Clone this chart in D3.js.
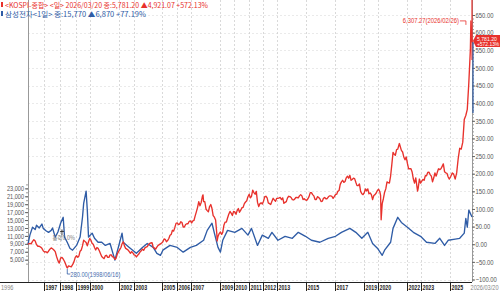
<!DOCTYPE html>
<html><head><meta charset="utf-8">
<script src="https://cdn.jsdelivr.net/npm/d3@7"></script>
<style>body{margin:0;background:#fff}svg{display:block}</style>
</head><body><svg id="c" width="500" height="292"></svg>
<script>
const kospiBase = 860.13;
const samsungBase = 8900;
const kospi = [
["1996-01-03",860.13],["1996-01",870],["1996-02",880],["1996-03",870],["1996-04",930],["1996-05",970],["1996-06",940],["1996-07",850],["1996-08",810],["1996-09",810],["1996-10",790],["1996-11",760],["1996-12",700],
["1997-01",670],["1997-02",680],["1997-03",650],["1997-04",690],["1997-05",740],["1997-06",770],["1997-07",750],["1997-08",720],["1997-09",680],["1997-10",560],["1997-11",460],["1997-12",400],
["1998-01",520],["1998-02",540],["1998-03",500],["1998-04",440],["1998-05",360],["1998-06-05",300],["1998-06-16",280],["1998-07",330],["1998-08",320],["1998-09",310],["1998-10",360],["1998-11",430],["1998-12",540],
["1999-01",580],["1999-02",540],["1999-03",570],["1999-04",690],["1999-05",720],["1999-06",820],["1999-07",960],["1999-08",930],["1999-09",900],["1999-10",820],["1999-11",920],["1999-12",1000],
["2000-01",960],["2000-02",880],["2000-03",860],["2000-04",780],["2000-05",720],["2000-06",780],["2000-07",760],["2000-08",700],["2000-09",630],["2000-10",560],["2000-11",530],["2000-12",510],
["2001-01",580],["2001-02",590],["2001-03",540],["2001-04",540],["2001-05",600],["2001-06",600],["2001-07",550],["2001-08",550],["2001-09",490],["2001-10",520],["2001-11",620],["2001-12",680],
["2002-01",730],["2002-02",780],["2002-03",870],["2002-04",920],["2002-05",820],["2002-06",760],["2002-07",740],["2002-08",720],["2002-09",680],["2002-10",640],["2002-11",680],["2002-12",650],
["2003-01",600],["2003-02",590],["2003-03",550],["2003-04",590],["2003-05",620],["2003-06",670],["2003-07",700],["2003-08",740],["2003-09",710],["2003-10",770],["2003-11",790],["2003-12",800],
["2004-01",850],["2004-02",880],["2004-03",890],["2004-04",900],["2004-05",780],["2004-06",770],["2004-07",740],["2004-08",790],["2004-09",830],["2004-10",850],["2004-11",870],["2004-12",890],
["2005-01",920],["2005-02",990],["2005-03",980],["2005-04",920],["2005-05",950],["2005-06",1000],["2005-07",1080],["2005-08",1100],["2005-09",1200],["2005-10",1180],["2005-11",1270],["2005-12",1370],
["2006-01",1380],["2006-02",1340],["2006-03",1350],["2006-04",1410],["2006-05",1390],["2006-06",1280],["2006-07",1280],["2006-08",1340],["2006-09",1360],["2006-10",1360],["2006-11",1420],["2006-12",1430],
["2007-01",1380],["2007-02",1430],["2007-03",1440],["2007-04",1550],["2007-05",1650],["2007-06",1760],["2007-07",1900],["2007-08",1800],["2007-09",1880],["2007-10",2030],["2007-10-31",2064],["2007-11",1900],["2007-12",1900],
["2008-01",1720],["2008-02",1680],["2008-03",1650],["2008-04",1780],["2008-05",1830],["2008-06",1730],["2008-07",1560],["2008-08",1520],["2008-09",1450],["2008-10",1120],["2008-10-24",940],["2008-11",1050],["2008-12",1120],
["2009-01",1160],["2009-02",1100],["2009-03",1150],["2009-04",1330],["2009-05",1400],["2009-06",1400],["2009-07",1500],["2009-08",1590],["2009-09",1660],["2009-10",1620],["2009-11",1560],["2009-12",1660],
["2010-01",1650],["2010-02",1590],["2010-03",1680],["2010-04",1730],["2010-05",1640],["2010-06",1690],["2010-07",1750],["2010-08",1760],["2010-09",1850],["2010-10",1890],["2010-11",1920],["2010-12",2020],
["2011-01",2080],["2011-02",1990],["2011-03",2030],["2011-04",2180],["2011-05",2120],["2011-06",2080],["2011-07",2150],["2011-08",1880],["2011-09",1780],["2011-10",1850],["2011-11",1870],["2011-12",1840],
["2012-01",1910],["2012-02",2020],["2012-03",2030],["2012-04",1990],["2012-05",1870],["2012-06",1850],["2012-07",1830],["2012-08",1910],["2012-09",1980],["2012-10",1940],["2012-11",1910],["2012-12",1980],
["2013-01",1980],["2013-02",1990],["2013-03",2000],["2013-04",1950],["2013-05",1990],["2013-06",1860],["2013-07",1880],["2013-08",1900],["2013-09",1990],["2013-10",2030],["2013-11",2020],["2013-12",2000],
["2014-01",1950],["2014-02",1940],["2014-03",1960],["2014-04",2000],["2014-05",2000],["2014-06",1990],["2014-07",2040],["2014-08",2070],["2014-09",2040],["2014-10",1950],["2014-11",1970],["2014-12",1940],
["2015-01",1930],["2015-02",1970],["2015-03",2020],["2015-04",2120],["2015-05",2120],["2015-06",2070],["2015-07",2040],["2015-08",1950],["2015-09",1950],["2015-10",2020],["2015-11",2000],["2015-12",1970],
["2016-01",1900],["2016-02",1910],["2016-03",1980],["2016-04",2000],["2016-05",1970],["2016-06",1970],["2016-07",2010],["2016-08",2040],["2016-09",2040],["2016-10",2030],["2016-11",1980],["2016-12",2020],
["2017-01",2070],["2017-02",2080],["2017-03",2150],["2017-04",2170],["2017-05",2320],["2017-06",2380],["2017-07",2420],["2017-08",2370],["2017-09",2390],["2017-10",2480],["2017-11",2520],["2017-12",2470],
["2018-01",2540],["2018-02",2420],["2018-03",2440],["2018-04",2470],["2018-05",2460],["2018-06",2370],["2018-07",2290],["2018-08",2290],["2018-09",2330],["2018-10",2150],["2018-11",2090],["2018-12",2070],
["2019-01",2120],["2019-02",2210],["2019-03",2160],["2019-04",2210],["2019-05",2090],["2019-06",2110],["2019-07",2070],["2019-08",1950],["2019-09",2050],["2019-10",2070],["2019-11",2110],["2019-12",2170],
["2020-01",2200],["2020-02",2140],["2020-03-05",2050],["2020-03-19",1457],["2020-04",1850],["2020-05",1970],["2020-06",2130],["2020-07",2210],["2020-08",2380],["2020-09",2360],["2020-10",2350],["2020-11",2530],["2020-12",2800],
["2021-01",3100],["2021-02",3050],["2021-03",3030],["2021-04",3170],["2021-05",3180],["2021-06-25",3316],["2021-07",3250],["2021-08",3150],["2021-09",3110],["2021-10",2990],["2021-11",2920],["2021-12",2990],
["2022-01",2830],["2022-02",2700],["2022-03",2700],["2022-04",2700],["2022-05",2620],["2022-06",2450],["2022-07",2350],["2022-08",2480],["2022-09-30",2155],["2022-10",2220],["2022-11",2450],["2022-12",2350],
["2023-01",2400],["2023-02",2440],["2023-03",2420],["2023-04",2530],["2023-05",2530],["2023-06",2610],["2023-07",2620],["2023-08",2560],["2023-09",2520],["2023-10",2380],["2023-11",2480],["2023-12",2600],
["2024-01",2520],["2024-02",2620],["2024-03",2700],["2024-04",2680],["2024-05",2700],["2024-06",2760],["2024-07",2820],["2024-08",2630],["2024-09",2600],["2024-10",2590],["2024-11",2500],["2024-12",2450],
["2025-01",2510],["2025-02",2600],["2025-03",2570],["2025-04",2450],["2025-05",2600],["2025-06",2950],["2025-07",3200],["2025-08",3180],["2025-09",3350],["2025-10",3900],["2025-11",4000],["2025-12",4150],
["2026-01",4800],["2026-02",5600],["2026-02-26",6307.27],["2026-03",5900],["2026-03-20",5781.20]
];
const samsung = [
["1996-01-03",8900],["1996-02",11200],["1996-04",13200],["1996-06",12600],["1996-07",13700],["1996-09",13000],["1996-11",14000],["1996-12",12900],
["1997-02",12300],["1997-04",11900],["1997-06",12400],["1997-07",13000],["1997-09",10700],["1997-11",12000],
["1998-01",14200],["1998-03",15700],["1998-04",10700],["1998-06",9400],["1998-08",7900],["1998-10",7400],
["1999-01",8600],["1999-04",10700],["1999-06",15700],["1999-07",19200],["1999-09",22300],["1999-10",17500],["1999-11",10700],
["2000-02",11700],["2000-04",10400],["2000-07",9400],["2000-10",9400],["2001-01",8600],["2001-05",9100],["2001-09",4900],
["2002-01",9400],["2002-03",11700],["2002-04",9400],["2002-09",8100],["2003-03",6600],["2003-08",8100],["2003-12",9100],
["2004-05",8100],["2004-08",6600],["2004-11",6100],["2005-01",7400],["2005-07",8600],["2006-01",8100],["2006-06",6900],["2006-12",8100],
["2007-05",8600],["2007-11",9900],["2008-02",12400],["2008-06",14200],["2008-08",11700],["2008-11",8100],["2009-01",6900],["2009-03",9900],["2009-07",12400],
["2010-01",11900],["2010-07",12900],["2010-12",11200],["2011-03",12900],["2011-08",8600],["2011-12",11200],["2012-05",10400],["2012-08",11900],
["2013-01",9900],["2013-07",10900],["2014-01",10400],["2014-06",11900],["2014-12",10900],["2015-05",9900],["2015-12",9400],["2016-07",10400],
["2017-01",10900],["2017-06",11900],["2018-01",12900],["2018-06",11900],["2018-11",10400],["2019-04",11900],["2019-08",9100],["2019-12",7900],
["2020-04",6100],["2020-06",7400],["2020-11",9400],["2021-01",12900],["2021-05",15700],["2021-08",14400],["2022-01",13200],["2022-06",11900],["2022-12",10900],
["2023-05",9400],["2023-12",9100],["2024-04",10400],["2024-08",8600],["2024-11",9900],["2025-04",10200],["2025-07",10400],["2025-10",11700],["2025-11",15400],["2025-12",13200],["2026-01",17500],["2026-03-20",15770]
];
const yearTicks = [1997,1998,1999,2000,2002,2003,2005,2006,2007,2009,2010,2011,2012,2013,2015,2017,2019,2020,2022,2023,2025];
const pctTicks = [-100,-50,0,50,100,150,200,250,300,350,400,450,500,550,600,650];
const priceTicks = [5000,7000,9000,11000,13000,15000,17000,19000,21000,23000];
const startLabel = "1996", endLabel = "2026/03/20";
const legend1 = "<KOSPI-종합> <일> 2026/03/20 종:5,781.20 ▲4,921.07 +572.13%";
const legend2 = "삼성전자<1일> 종:15,770 ▲6,870 +77.19%";
const peakNote = "6,307.27(2026/02/26)";
const lowNote = "280.00(1998/06/16)";

const RED = "#e8312c", BLUE = "#2f5ca6";
const L = 28, R = 472, AX = 282;
const parse = s => s.length === 7 ? d3.timeParse("%Y-%m-%d")(s + "-15") : d3.timeParse("%Y-%m-%d")(s);
const svg = d3.select("#c");
const FONT = "'Liberation Sans',Arial,sans-serif";
// narrow text through a horizontal scale transform
function ntext(x0, y0, txt, size, sx, fill, opts = {}) {
  return svg.append("text")
    .attr("transform", `translate(${x0},${y0}) scale(${sx},1)`)
    .attr("text-anchor", opts.anchor || "start")
    .attr("font-family", opts.family || FONT).attr("font-size", size)
    .attr("font-weight", opts.weight || "normal").attr("fill", fill).text(txt);
}

const breaks = ["1996-01-03","1999-01-01","2025-01-01","2026-03-20"].map(parse);
const x = d3.scaleTime().domain(breaks).range([L, L + (R-L)*0.1081, L + (R-L)*0.9505, R]);
const y = d3.scaleLinear().domain([-100, 650]).range([279.5, 15]);
const yPrice = d3.scaleLinear().domain([0, samsungBase]).range([y(-100), y(0)]);
const yx = d => Math.round(x(new Date(d,0,1))) + 0.5;

// grids
svg.append("g").selectAll("line").data(pctTicks).join("line")
  .attr("x1", L).attr("x2", R).attr("y1", d => Math.round(y(d))+0.5).attr("y2", d => Math.round(y(d))+0.5)
  .attr("stroke", "#e4e4e4").attr("stroke-dasharray", "2,2").attr("stroke-width", 0.8);
svg.append("g").selectAll("line").data(yearTicks).join("line")
  .attr("x1", yx).attr("x2", yx)
  .attr("y1", 0).attr("y2", AX).attr("stroke", "#cfcfcf").attr("stroke-dasharray", "2,2").attr("stroke-width", 0.8);

// left & right axis lines
svg.append("line").attr("x1", L+0.5).attr("x2", L+0.5).attr("y1", 0).attr("y2", AX).attr("stroke", "#999");
svg.append("line").attr("x1", R+0.5).attr("x2", R+0.5).attr("y1", 0).attr("y2", AX).attr("stroke", "#999");

// right axis
svg.append("g").attr("transform", `translate(${R},0)`)
  .call(d3.axisRight(y).tickValues(d3.range(-100, 651, 10)).tickSize(2).tickFormat(""))
  .call(g => { g.select(".domain").remove(); g.selectAll("line").attr("stroke", "#999"); });
const RSX = 0.84;
svg.append("g").attr("transform", `translate(${R},0)`)
  .call(d3.axisRight(y).tickValues(pctTicks).tickSize(3).tickPadding(1).tickFormat(d3.format(".2f")))
  .call(g => { g.select(".domain").remove(); g.selectAll("line").attr("stroke", "#666");
    g.selectAll("text").attr("font-family", FONT).attr("font-size", 7).attr("fill", "#555")
      .attr("x", 3.5/RSX).attr("transform", `scale(${RSX},1)`); });

// left axis (price)
svg.append("g").attr("transform", `translate(${L},0)`)
  .call(d3.axisLeft(yPrice).tickValues(d3.range(4000, 24001, 1000)).tickSize(2).tickFormat(""))
  .call(g => { g.select(".domain").remove(); g.selectAll("line").attr("stroke", "#999"); });
const LSX = 0.86;
svg.append("g").attr("transform", `translate(${L},0)`)
  .call(d3.axisLeft(yPrice).tickValues(priceTicks).tickSize(3).tickPadding(1).tickFormat(d3.format(",")))
  .call(g => { g.select(".domain").remove(); g.selectAll("line").attr("stroke", "#666");
    g.selectAll("text").attr("font-family", FONT).attr("font-size", 6.5).attr("fill", "#555")
      .attr("x", -4/LSX).attr("transform", `scale(${LSX},1)`); });

// x axis
svg.append("line").attr("x1", 0).attr("x2", R).attr("y1", AX+0.5).attr("y2", AX+0.5).attr("stroke", "#222");
svg.append("g").selectAll("line").data(yearTicks).join("line")
  .attr("x1", yx).attr("x2", yx).attr("y1", AX).attr("y2", AX+9).attr("stroke", "#222");
yearTicks.forEach(d => ntext(yx(d) + 1, 290, d, 7.5, 0.7, "#222", {weight: "bold"}));
ntext(1, 290, startLabel, 7, 0.8, "#888");
ntext(498.5, 290, endLabel, 7, 0.8, "#888", {anchor: "end"});

// lines
const lineK = d3.line().x(d => x(parse(d[0]))).y(d => y((d[1]/kospiBase - 1)*100));
const lineS = d3.line().x(d => x(parse(d[0]))).y(d => y((d[1]/samsungBase - 1)*100));
svg.append("path").datum(samsung).attr("d", lineS).attr("fill", "none").attr("stroke", BLUE).attr("stroke-width", 1.35).attr("stroke-linejoin", "round");
svg.append("path").datum(kospi).attr("d", lineK).attr("fill", "none").attr("stroke", RED).attr("stroke-width", 1.35).attr("stroke-linejoin", "round");

// right edge markers
svg.append("line").attr("x1", R).attr("x2", R).attr("y1", 0).attr("y2", 60).attr("stroke", RED).attr("stroke-width", 1.2);
svg.append("line").attr("x1", R+1).attr("x2", R+1).attr("y1", 42).attr("y2", 113).attr("stroke", BLUE).attr("stroke-width", 1.2);

// current value box
const last = kospi[kospi.length-1];
const ly = Math.round(y((last[1]/kospiBase - 1)*100));
svg.append("path").attr("d", `M${R+1},${ly-1} L${R+4},${ly-7} H500 V${ly+5} H${R+4} Z`).attr("fill", RED);
ntext(R+5, ly-1.5, d3.format(",.2f")(last[1]), 6, 0.85, "#fff");
ntext(R+5, ly+4, "+" + d3.format(".2f")((last[1]/kospiBase-1)*100) + "%", 6, 0.82, "#fff");

// peak annotation
const pk = kospi.reduce((a, b) => b[1] > a[1] ? b : a);
const px = x(parse(pk[0])), py = y((pk[1]/kospiBase - 1)*100);
svg.append("path").attr("d", `M${px-11},${py} H${px-5} V${py+4}`).attr("fill", "none").attr("stroke", RED).attr("stroke-width", 0.8);
ntext(px-12, py+2.5, peakNote, 7, 0.84, RED, {anchor: "end"});

// low annotation
const lo = kospi.reduce((a, b) => b[1] < a[1] ? b : a);
const lx = x(parse(lo[0])), lyy = y((lo[1]/kospiBase - 1)*100);
svg.append("path").attr("d", `M${lx},${lyy+1} V${lyy+6} H${lx+3}`).attr("fill", "none").attr("stroke", BLUE).attr("stroke-width", 0.8);
ntext(lx+3, lyy+8.5, lowNote, 7, 0.82, "#4a6fb0");

// crosshair marker & small label
const cx0 = x(parse("1998-02"));
svg.append("path").attr("d", `M${cx0},${y(42)} v6 M${cx0-2},${y(42)+2} h4`).attr("stroke", "#111").attr("stroke-width", 0.8);
ntext(x(parse("1997-07")), y(13), "등락0.0%", 6, 0.9, "#777", {family: "'Noto Sans CJK KR',sans-serif"});

// legend
svg.append("rect").attr("x", 1).attr("y", 2).attr("width", 2).attr("height", 5).attr("fill", RED);
svg.append("rect").attr("x", 1).attr("y", 11).attr("width", 2).attr("height", 5).attr("fill", BLUE);
svg.append("text").attr("x", 5).attr("y", 7.5).attr("font-family", "'Noto Sans CJK KR',sans-serif").attr("font-size", 7)
  .attr("fill", RED).attr("textLength", 203).attr("lengthAdjust", "spacingAndGlyphs").text(legend1);
svg.append("text").attr("x", 5).attr("y", 16.5).attr("font-family", "'Noto Sans CJK KR',sans-serif").attr("font-size", 7)
  .attr("fill", BLUE).attr("textLength", 141).attr("lengthAdjust", "spacingAndGlyphs").text(legend2);
</script></body></html>
